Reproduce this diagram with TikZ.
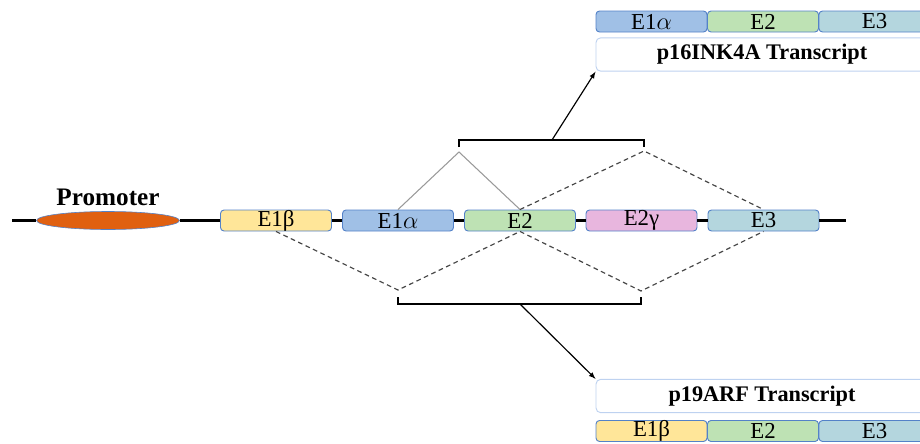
\documentclass[tikz,border=0pt]{standalone}
\usepackage{fontspec}
\setmainfont{Liberation Serif}
\usetikzlibrary{shapes.geometric}
\definecolor{exonline}{RGB}{84,130,200}
\definecolor{cEonebeta}{RGB}{255,230,153}
\definecolor{cEonealpha}{RGB}{160,192,230}
\definecolor{cEtwo}{RGB}{190,226,180}
\definecolor{cEtwogamma}{RGB}{232,182,222}
\definecolor{cEthree}{RGB}{180,214,222}
\definecolor{promcol}{RGB}{224,96,16}
\definecolor{transline}{RGB}{190,210,240}
\definecolor{splicegray}{RGB}{70,70,70}
\tikzset{
  exon/.style={draw=exonline,line width=0.8pt,rounded corners=3pt,minimum width=3.33cm,minimum height=0.63cm,inner sep=0pt,font=\fontsize{19.5}{22}\selectfont},
  transbox/.style={draw=transline,fill=white,line width=0.8pt,rounded corners=4pt,minimum width=9.96cm,minimum height=1.0cm,inner sep=0pt,font=\fontsize{19}{22}\selectfont\bfseries},
  dna/.style={line width=2pt},
  bracket/.style={line width=1.3pt},
  skipline/.style={splicegray,line width=1pt,dash pattern=on 4pt off 3pt},
  joinline/.style={gray!80,line width=0.9pt}
}
\begin{document}
\begin{tikzpicture}[x=0.03cm,y=-0.03cm]
	\useasboundingbox (0,0) rectangle (920,443);
	\clip (0,0) rectangle (920,443);
	% gene
	\coordinate (lstart) at (12,220.5);
	\coordinate (lend) at (846,220.5);
	\node[ellipse,draw=exonline,fill=promcol,line width=0.5pt,minimum width=4.29cm,minimum height=0.54cm,inner sep=0pt] (prom) at (108,220.5) {};
	\node[font=\fontsize{21.5}{24}\selectfont\bfseries] (promlbl) at (108,197) {Promoter};
	\node[exon,fill=cEonebeta] (eonebeta) at (276,220.5) {E1β};
	\node[exon,fill=cEonealpha] (eonealpha) at (398,220.5) {E1$\alpha$};
	\node[exon,fill=cEtwo] (etwo) at (520,220.5) {E2};
	\node[exon,fill=cEtwogamma] (etwogamma) at (641.5,220.5) {E2γ};
	\node[exon,fill=cEthree] (ethree) at (763.5,220.5) {E3};
	\draw[dna] (lstart) -- (prom.west);
	\draw[dna] (prom.east) -- (eonebeta.west);
	\draw[dna] (eonebeta.east) -- (eonealpha.west);
	\draw[dna] (eonealpha.east) -- (etwo.west);
	\draw[dna] (etwo.east) -- (etwogamma.west);
	\draw[dna] (etwogamma.east) -- (ethree.west);
	\draw[dna] (ethree.east) -- (lend);
	% splicing above
	\coordinate (upL) at (459,152);
	\coordinate (upR) at (644,151);
	\draw[joinline] (eonealpha.north) -- (upL) -- (etwo.north);
	\draw[skipline] (etwo.north) -- (upR) -- (ethree.north);
	% splicing below
	\coordinate (lowL) at (398,290);
	\coordinate (lowR) at (641,291);
	\draw[skipline] (eonebeta.south) -- (lowL) -- (etwo.south) -- (lowR) -- (ethree.south);
	% brackets
	\coordinate (bupM) at (552,140);
	\coordinate (blowM) at (520,304);
	\draw[bracket] (459,147) -- (459,140) -- (644,140) -- (644,147);
	\draw[bracket] (398,297) -- (398,304) -- (641,304) -- (641,297);
	% p16INK4A
	\node[exon,fill=cEonealpha] (tonealpha) at (651.5,21.5) {E1$\alpha$};
	\node[exon,fill=cEtwo] (ttwoa) at (763,21.5) {E2};
	\node[exon,fill=cEthree] (tthreea) at (874.5,21.5) {E3};
	\node[transbox] (pink) at (762,54.5) {p16INK4A Transcript};
	\draw[-latex,line width=1pt] (bupM) -- (pink.south west);
	% p19ARF
	\node[transbox] (parf) at (762,396) {p19ARF Transcript};
	\node[exon,fill=cEonebeta] (tonebeta) at (651.5,431) {E1β};
	\node[exon,fill=cEtwo] (ttwob) at (763,431) {E2};
	\node[exon,fill=cEthree] (tthreeb) at (874.5,431) {E3};
	\draw[-latex,line width=1pt] (blowM) -- (parf.north west);
\end{tikzpicture}
\end{document}
